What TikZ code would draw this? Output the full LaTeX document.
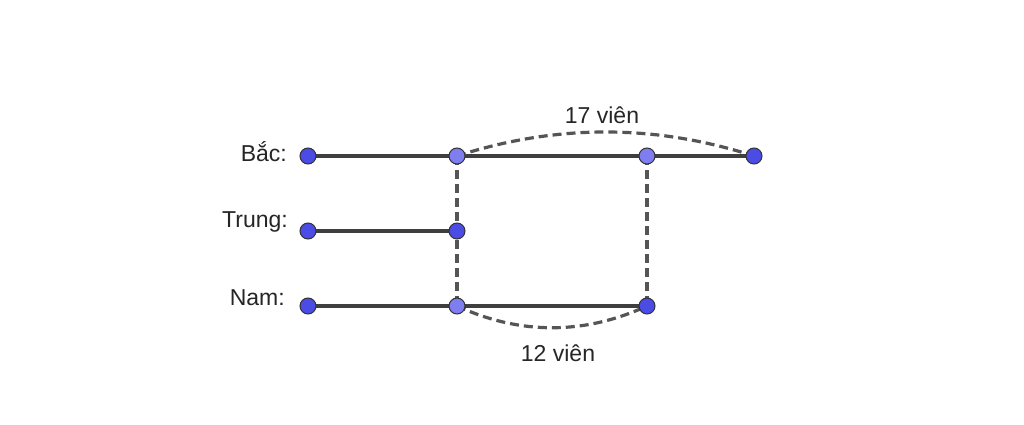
\documentclass[tikz,border=0pt]{standalone}
\usepackage{fontspec}
\setmainfont{Liberation Sans}
\begin{document}
\begin{tikzpicture}[x=1pt,y=-1pt,
  pt/.style={circle,draw=black!80,line width=1pt,fill=ptblue,minimum size=16pt,inner sep=0pt},
  ptl/.style={pt,fill=ptlight},
  seg/.style={draw=segc,line width=3.2pt},
  dsh/.style={draw=dashc,line width=3.2pt,dash pattern=on 9pt off 5pt},
  lbl/.style={font=\fontsize{23}{26}\selectfont,text=black!85,inner sep=0pt}]
\definecolor{ptblue}{HTML}{4B4BE6}
\definecolor{ptlight}{HTML}{7E7EF0}
\definecolor{segc}{HTML}{3F3F3F}
\definecolor{dashc}{HTML}{555555}
\useasboundingbox[fill=white] (0,0) rectangle (1024,425);
\coordinate (b1) at (308,156);
\coordinate (b2) at (457,156);
\coordinate (b3) at (647,156);
\coordinate (b4) at (754,156);
\coordinate (t1) at (308,231);
\coordinate (t2) at (457,231);
\coordinate (n1) at (308,306);
\coordinate (n2) at (457,306);
\coordinate (n3) at (647,306);
\draw[seg] (b1) -- (b4);
\draw[seg] (t1) -- (t2);
\draw[seg] (n1) -- (n3);
\draw[dsh] (b2) -- (n2);
\draw[dsh] (b3) -- (n3);
\draw[dsh] (b2) .. controls (556,124) and (655,124) .. (b4);
\draw[dsh] (n2) .. controls (520,335) and (584,335) .. (n3);
\node[pt] (B1) at (b1) {};
\node[ptl] (B2) at (b2) {};
\node[ptl] (B3) at (b3) {};
\node[pt] (B4) at (b4) {};
\node[pt] (T1) at (t1) {};
\node[pt] (T2) at (t2) {};
\node[pt] (N1) at (n1) {};
\node[ptl] (N2) at (n2) {};
\node[pt] (N3) at (n3) {};
\node[lbl,anchor=east] (LB) at (287,152) {Bắc:};
\node[lbl,anchor=east] (LT) at (288,222) {Trung:};
\node[lbl,anchor=east] (LN) at (285,298) {Nam:};
\node[lbl] (L17) at (602,115) {17 viên};
\node[lbl] (L12) at (558,353) {12 viên};
\end{tikzpicture}
\end{document}
